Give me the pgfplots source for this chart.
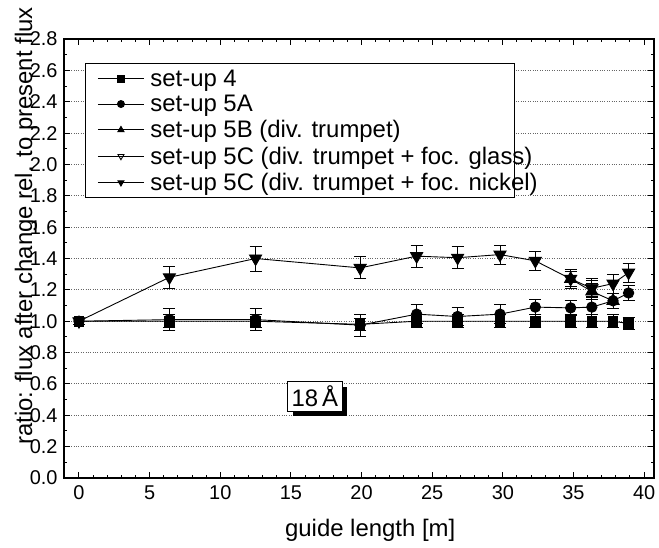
\documentclass[border=0pt]{standalone}
\usepackage{pgfplots}
\pgfplotsset{compat=1.18}
\usepackage{pgfplotstable}
\usepackage{fontspec}
\setmainfont{Liberation Sans}
\usetikzlibrary{shadows}

\pgfplotstableread{
x y e
0 1.00 0.02
6.4 1.00 0.04
12.5 1.00 0.04
19.9 0.98 0.04
23.9 1.00 0.04
26.8 1.00 0.04
29.8 1.00 0.04
32.3 1.00 0.04
34.8 1.00 0.04
36.3 1.00 0.04
37.8 1.00 0.04
38.9 0.985 0.04
}\setupfour

\pgfplotstableread{
x y e
0 1.00 0.02
6.4 1.01 0.07
12.5 1.01 0.07
19.9 0.975 0.07
23.9 1.045 0.06
26.8 1.03 0.06
29.8 1.045 0.06
32.3 1.09 0.05
34.8 1.085 0.05
36.3 1.09 0.05
37.8 1.13 0.05
38.9 1.18 0.05
}\setupfiveA

\pgfplotstableread{
x y e
34.8 1.27 0.05
36.3 1.19 0.05
37.8 1.13 0.05
}\setupfiveB

\pgfplotstableread{
x y e
36.3 1.21 0.05
}\setupfiveCg

\pgfplotstableread{
x y e
0 1.00 0.02
6.4 1.28 0.07
12.5 1.40 0.08
19.9 1.34 0.07
23.9 1.415 0.07
26.8 1.405 0.07
29.8 1.425 0.06
32.3 1.385 0.06
34.8 1.27 0.06
36.3 1.21 0.06
37.8 1.24 0.06
38.9 1.31 0.06
}\setupfiveCn

\newcommand{\lentry}[1]{\makebox[354bp][l]{\hspace*{4bp}#1}}

\begin{document}
\begin{tikzpicture}
\begin{axis}[
  name=ax,
  scale only axis,
  width=590bp, height=439bp,
  xmin=-1.06, xmax=40.7,
  ymin=0, ymax=2.8,
  xtick={0,5,...,40},
  minor x tick num=4,
  ytick={0,0.2,...,2.81},
  minor y tick num=1,
  tick align=inside,
  major tick length=6bp,
  minor tick length=3bp,
  axis line style={line width=1.2bp},
  tick style={line width=1bp, black},
  ymajorgrids,
  grid style={dotted, gray!80!black, line width=1.1bp},
  /pgf/number format/assume math mode=true,
  yticklabel style={/pgf/number format/fixed, /pgf/number format/precision=1, /pgf/number format/fixed zerofill, xshift=-3bp},
  xticklabel style={yshift=-4bp},
  tick label style={font=\fontsize{20}{22}\selectfont},
  xlabel={guide length [m]},
  ylabel={ratio: flux after change rel. to present flux},
  every axis x label/.style={at={(axis description cs:0.519,0)}, anchor=center, yshift=-52bp, font=\fontsize{24}{26}\selectfont},
  every axis y label/.style={at={(axis description cs:-0.0644,0.574)}, anchor=center, rotate=90, font=\fontsize{24}{26}\selectfont},
  legend style={at={(axis description cs:0.0356,0.945)}, anchor=north west, draw=black, line width=1bp, font=\fontsize{24}{26}\selectfont, row sep=3.5bp, inner xsep=12bp, inner ysep=4bp, legend cell align=left},
  legend image code/.code={\draw[mark repeat=2,mark phase=2] plot coordinates {(0bp,0bp) (23bp,0bp) (46bp,0bp)};},
  legend image post style={mark size=3.5bp},
  error bars/error bar style={line width=0.9bp},
  error bars/error mark options={rotate=90, mark size=6bp, line width=0.9bp},
]
\addplot[black, line width=0.9bp, mark=square*, mark size=4.8bp, error bars/.cd, y dir=both, y explicit] table[x=x, y=y, y error=e] {\setupfour};
\addlegendentry{\lentry{set-up 4}}
\addplot[black, line width=0.9bp, mark=*, mark size=5.2bp, error bars/.cd, y dir=both, y explicit] table[x=x, y=y, y error=e] {\setupfiveA};
\addlegendentry{\lentry{set-up 5A}}
\addplot[black, line width=0.9bp, mark=triangle*, mark size=7bp, error bars/.cd, y dir=both, y explicit] table[x=x, y=y, y error=e] {\setupfiveB};
\addlegendentry{\lentry{set-up 5B (div. trumpet)}}
\addplot[black, line width=0.9bp, mark=triangle, mark options={rotate=180, fill=white}, mark size=7bp, error bars/.cd, y dir=both, y explicit] table[x=x, y=y, y error=e] {\setupfiveCg};
\addlegendentry{\lentry{set-up 5C (div. trumpet + foc. glass)}}
\addplot[black, line width=0.9bp, mark=triangle*, mark options={rotate=180}, mark size=7bp, error bars/.cd, y dir=both, y explicit] table[x=x, y=y, y error=e] {\setupfiveCn};
\addlegendentry{\lentry{set-up 5C (div. trumpet + foc. nickel)}}
\node[draw=black, line width=1bp, fill=white, inner sep=4bp, font=\fontsize{24}{26}\selectfont,
  drop shadow={shadow xshift=5bp, shadow yshift=-5bp, fill=black, opacity=1}] at (axis cs:16.7,0.52) {18\,Å};
\end{axis}
\pgfresetboundingbox
\path[use as bounding box] ([xshift=-64bp,yshift=-70bp]ax.south west) rectangle ([xshift=5bp,yshift=39bp]ax.north east);
\end{tikzpicture}
\end{document}
